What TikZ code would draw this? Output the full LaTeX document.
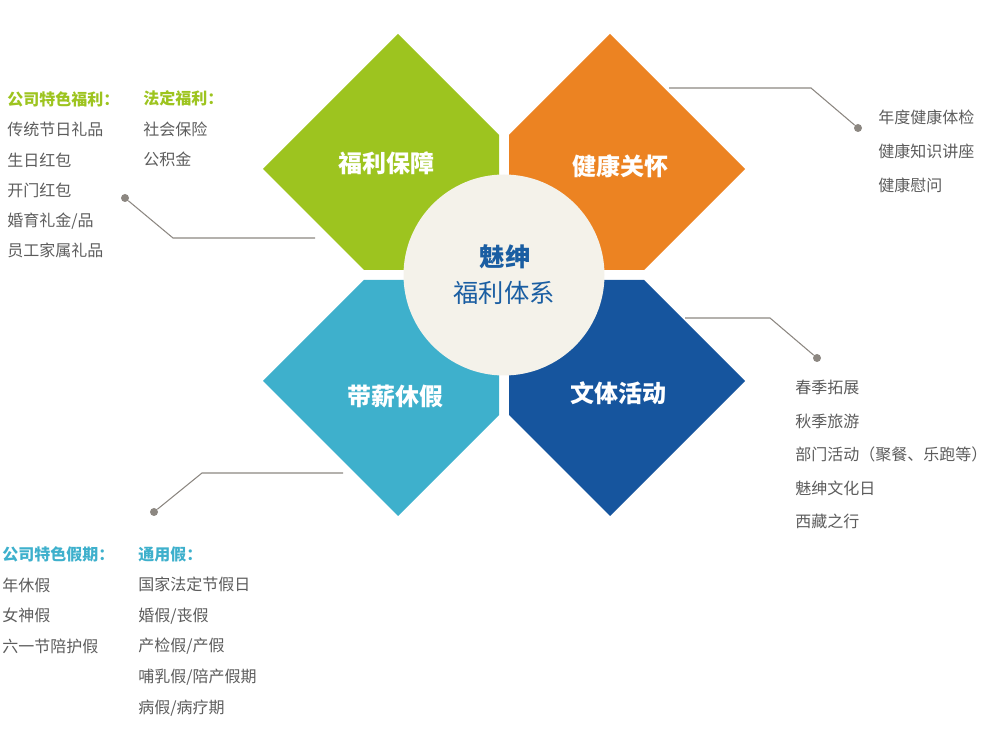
\documentclass[tikz,border=0pt]{standalone}
\usepackage{fontspec}
\setmainfont{Noto Sans CJK SC}
\usepackage{xcolor}
\definecolor{welfareGreen}{RGB}{157,196,31}
\definecolor{healthOrange}{RGB}{236,131,34}
\definecolor{leaveCyan}{RGB}{62,176,204}
\definecolor{cultureBlue}{RGB}{22,85,158}
\definecolor{hubCream}{RGB}{244,242,234}
\definecolor{hubBlue}{RGB}{26,94,162}
\definecolor{listGray}{RGB}{92,92,92}
\definecolor{leaderGray}{RGB}{140,135,129}

\begin{document}
\begin{tikzpicture}[x=0.75pt,y=-0.75pt,
    petallabel/.style={text=white, font=\fontsize{18}{20}\selectfont\bfseries, inner sep=0pt},
    itemlist/.style={text=listGray, align=left, anchor=base west, inner sep=0pt},
    leader/.style={draw=leaderGray, line width=0.8pt},
    leaderdot/.style={circle, fill=leaderGray, inner sep=0pt, minimum size=6pt}]
    \useasboundingbox (0,0) rectangle (1000,730);

    % four petals
    \fill[welfareGreen] (398,34) -- (499,135) -- (499,270) -- (364,270) -- (263,169) -- cycle;
    \fill[healthOrange] (610,34) -- (745,169) -- (644,270) -- (509,270) -- (509,135) -- cycle;
    \fill[leaveCyan] (364,280) -- (499,280) -- (499,415) -- (398,516) -- (263,381) -- cycle;
    \fill[cultureBlue] (509,280) -- (644,280) -- (745,381) -- (610,516) -- (509,415) -- cycle;
    \node[petallabel] (welfare) at (386,163) {福利保障};
    \node[petallabel] (health) at (620,166) {健康关怀};
    \node[petallabel] (leave) at (395,396) {带薪休假};
    \node[petallabel] (culture) at (618,393) {文体活动};

    % hub
    \node[circle, fill=hubCream, minimum size=150.75pt, inner sep=0pt] (hub) at (504,275) {};
    \node[text=hubBlue, font=\fontsize{19}{20}\selectfont\bfseries, inner sep=0pt] (hubtop) at (505,257) {魅绅};
    \node[text=hubBlue, font=\fontsize{19}{20}\selectfont, inner sep=0pt] (hubbottom) at (504,293) {福利体系};

    % leaders
    \node[leaderdot] (dotwelfare) at (125,198) {};
    \coordinate (kneewelfare) at (173,238);
    \coordinate (endwelfare) at (315,238);
    \draw[leader] (dotwelfare) -- (kneewelfare) -- (endwelfare);

    \node[leaderdot] (dothealth) at (858,128) {};
    \coordinate (kneehealth) at (811,88);
    \coordinate (endhealth) at (669,88);
    \draw[leader] (dothealth) -- (kneehealth) -- (endhealth);

    \node[leaderdot] (dotculture) at (817,358) {};
    \coordinate (kneeculture) at (770,318);
    \coordinate (endculture) at (685,318);
    \draw[leader] (dotculture) -- (kneeculture) -- (endculture);

    \node[leaderdot] (dotleave) at (154,512) {};
    \coordinate (kneeleave) at (202,473);
    \coordinate (endleave) at (343,473);
    \draw[leader] (dotleave) -- (kneeleave) -- (endleave);

    % item lists (anchored at the baseline of the last line)
    \node[itemlist, font=\fontsize{12}{22.7}\selectfont] (welfareown) at (7,257)
        {{\bfseries\color{welfareGreen}公司特色福利：}\\传统节日礼品\\生日红包\\开门红包\\婚育礼金/品\\员工家属礼品};
    \node[itemlist, font=\fontsize{12}{22.7}\selectfont] (welfarelaw) at (143,165.5)
        {{\bfseries\color{welfareGreen}法定福利：}\\社会保险\\公积金};
    \node[itemlist, font=\fontsize{12}{25.5}\selectfont] (healthlist) at (878,191.5)
        {年度健康体检\\健康知识讲座\\健康慰问};
    \node[itemlist, font=\fontsize{12}{25.2}\selectfont] (culturelist) at (795,528)
        {春季拓展\\秋季旅游\\部门活动（聚餐、乐跑等）\\魅绅文化日\\西藏之行};
    \node[itemlist, font=\fontsize{12}{22.9}\selectfont] (leaveown) at (2,652.5)
        {{\bfseries\color{leaveCyan}公司特色假期：}\\年休假\\女神假\\六一节陪护假};
    \node[itemlist, font=\fontsize{12}{22.9}\selectfont] (leavecommon) at (138,713)
        {{\bfseries\color{leaveCyan}通用假：}\\国家法定节假日\\婚假/丧假\\产检假/产假\\哺乳假/陪产假期\\病假/病疗期};
\end{tikzpicture}
\end{document}
